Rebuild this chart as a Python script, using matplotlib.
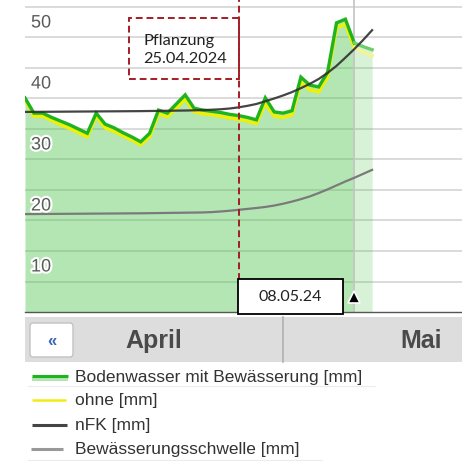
import matplotlib
matplotlib.use('Agg')
import matplotlib.pyplot as plt
from matplotlib.patches import Rectangle, FancyBboxPatch
import matplotlib.patheffects as pe

plt.rcParams['font.family'] = ['Liberation Sans', 'DejaVu Sans']

# ---------------- data (day 0 = 01.04.2024) ----------------
days = list(range(40))
mit_bewaesserung = [35.1, 32.6, 32.6, 31.9, 31.3, 30.7, 30.0, 29.3, 32.6, 30.8,
                    30.2, 29.4, 28.7, 27.9, 29.3, 33.1, 32.6, 34.1, 35.6, 33.4,
                    33.1, 32.9, 32.7, 32.4, 32.2, 31.9, 31.5, 35.1, 32.8, 32.6,
                    33.0, 38.5, 37.2, 36.9, 39.3, 47.4, 48.0, 44.1, 43.5, 43.0]
ohne = [34.8, 32.1, 32.1, 31.4, 30.7, 30.1, 29.4, 28.7, 32.1, 30.2,
        29.6, 28.9, 28.2, 27.4, 28.7, 32.5, 32.0, 33.4, 34.9, 32.8,
        32.5, 32.3, 32.1, 31.8, 31.6, 31.3, 30.9, 34.2, 32.1, 31.9,
        32.3, 37.7, 36.4, 36.1, 38.5, 46.6, 47.2, 43.3, 42.6, 42.0]
nfk = [32.8, 32.81, 32.82, 32.83, 32.84, 32.85, 32.86, 32.87, 32.88, 32.89,
       32.9, 32.91, 32.92, 32.93, 32.95, 32.97, 32.99, 33.01, 33.03, 33.06,
       33.1, 33.16, 33.24, 33.36, 33.55, 33.8, 34.1, 34.55, 35.0, 35.5,
       36.05, 36.7, 37.4, 38.2, 39.2, 40.35, 41.7, 43.1, 44.6, 46.2]
schwelle = [16.05, 16.06, 16.07, 16.08, 16.09, 16.1, 16.11, 16.12, 16.13, 16.14,
            16.15, 16.16, 16.17, 16.18, 16.2, 16.22, 16.24, 16.26, 16.28, 16.3,
            16.32, 16.38, 16.48, 16.6, 16.75, 16.9, 17.05, 17.22, 17.45, 17.75,
            18.1, 18.5, 18.95, 19.5, 20.1, 20.75, 21.4, 22.0, 22.65, 23.3]
ytick_vals = [10, 20, 30, 40, 50]
grid_vals = [5, 10, 15, 20, 25, 30, 35, 40, 45, 50]
plant_day = 24          # 25.04.2024
today = 37              # 08.05.2024
plant_text = 'Pflanzung\n25.04.2024'
today_text = '08.05.24'
month_labels = ['April', 'Mai']
legend_labels = ['Bodenwasser mit Bewässerung [mm]', 'ohne [mm]', 'nFK [mm]',
                 'Bewässerungsschwelle [mm]']

# ---------------- figure ----------------
W, H = 462, 461
fig = plt.figure(figsize=(W / 100, H / 100), dpi=100)
ax = fig.add_axes([25 / W, (H - 312) / H, (W - 25) / W, 312 / H])
ax.set_xlim(0, (W - 25) / 8.9)
ax.set_ylim(0, 312 / 6.1)
for s in ['top', 'right', 'left']:
    ax.spines[s].set_visible(False)
ax.spines['bottom'].set_color('#555555')
ax.spines['bottom'].set_linewidth(1.0)
ax.set_xticks([])
ax.set_yticks([])

for v in grid_vals:
    ax.axhline(v, color='#d4d4d4', lw=1.2, zorder=0.5)

green_fill = '#4cc44c'
ax.fill_between(days[:today + 1], 0, mit_bewaesserung[:today + 1], color=green_fill,
                alpha=0.42, lw=0, zorder=1)
ax.fill_between(days[today:], 0, mit_bewaesserung[today:], color=green_fill,
                alpha=0.22, lw=0, zorder=1)

ax.axvline(today, color='#c4c4c4', lw=1.2, zorder=1.5)

ax.plot(days[:today + 1], ohne[:today + 1], color='#f0f000', lw=2.4, zorder=3,
        solid_joinstyle='miter')
ax.plot(days[today:], ohne[today:], color='#f4f490', lw=2.4, zorder=3)
ax.plot(days[:today + 1], mit_bewaesserung[:today + 1], color='#1fb41f', lw=2.4,
        zorder=4, solid_joinstyle='miter')
ax.plot(days[today:], mit_bewaesserung[today:], color='#6fcd6f', lw=2.4, zorder=4)
ax.plot(days, nfk, color='#303030', lw=1.6, zorder=5, alpha=0.9)
ax.plot(days, schwelle, color='#7a7a7a', lw=1.6, zorder=5)

for v in ytick_vals:
    ax.annotate(str(v), xy=(0, v), xycoords=('axes fraction', 'data'),
                xytext=(6, -16), textcoords='offset pixels', ha='left', va='center',
                fontsize=13, color='#5a5a5a', zorder=6,
                path_effects=[pe.withStroke(linewidth=3, foreground='white')])

# planting marker
dark_red = '#a31d24'
ax.axvline(plant_day, color=dark_red, lw=1.4, ls=(0, (3.5, 2.0)), zorder=6)
box_left = plant_day - (240 - 130) / 8.9
ax.add_patch(Rectangle((box_left, (312 - 79) / 6.1), plant_day - box_left,
                       (79 - 18) / 6.1, fill=False, ec=dark_red, lw=1.4,
                       ls=(0, (3.5, 2.0)), zorder=6))
ax.text(box_left + (145 - 130) / 8.9, (312 - 50) / 6.1, plant_text, ha='left',
        va='center', fontsize=11.8, family='Lato', color='#222222', linespacing=1.3,
        zorder=6)

# today marker
ax.plot(today, (312 - 297) / 6.1, marker='^', ms=8, color='black', mec='white',
        mew=1.2, zorder=7, clip_on=False)

# ---------------- UI overlay (pixel coords) ----------------
ui = fig.add_axes([0, 0, 1, 1])
ui.set_xlim(0, W)
ui.set_ylim(H, 0)
ui.axis('off')

ui.add_patch(Rectangle((238, 279), 105, 35, fc='white', ec='black', lw=1.3, zorder=5))
ui.text(290.5, 297, today_text, ha='center', va='center', fontsize=11.5,
        family='Lato', color='#222222', zorder=6)

ui.add_patch(Rectangle((25, 317), W - 25, 45, fc='#dddddd', ec='none'))
ui.plot([283, 283], [317, 362], color='#b0b0b0', lw=1.2)
ui.add_patch(FancyBboxPatch((30, 323), 43, 34, boxstyle='round,pad=0,rounding_size=3',
                            fc='white', ec='#c2c2c2', lw=1))
ui.text(51.5, 341, '«', ha='center', va='center', fontsize=12, fontweight='bold',
        color='#3a64b8')
ui.text(154, 341, month_labels[0], ha='center', va='center', fontsize=18,
        fontweight='bold', color='#4a4a4a')
ui.text(421, 341, month_labels[1], ha='center', va='center', fontsize=18,
        fontweight='bold', color='#4a4a4a')

# legend
ui.add_patch(Rectangle((32, 376.5), 36, 4.5, fc='#b3e5b3', ec='none'))
ui.plot([32, 68], [375.5, 375.5], color='#1fb41f', lw=2.2, solid_capstyle='butt')
ui.plot([32, 66], [400, 400], color='#f0ee10', lw=1.8, solid_capstyle='butt')
ui.plot([32, 67], [425, 425], color='#444444', lw=2.2, solid_capstyle='butt')
ui.plot([31, 63], [449, 449], color='#999999', lw=2.2, solid_capstyle='butt')
ui.plot([28, 375], [386, 386], color='#ececec', lw=0.8)
ui.plot([28, 322], [460, 460], color='#ececec', lw=0.8)
for lab, y in zip(legend_labels, [377, 400, 425, 449]):
    ui.text(75, y, lab, ha='left', va='center', fontsize=12.5, color='#333333')

fig.savefig('out.png', dpi=100)
